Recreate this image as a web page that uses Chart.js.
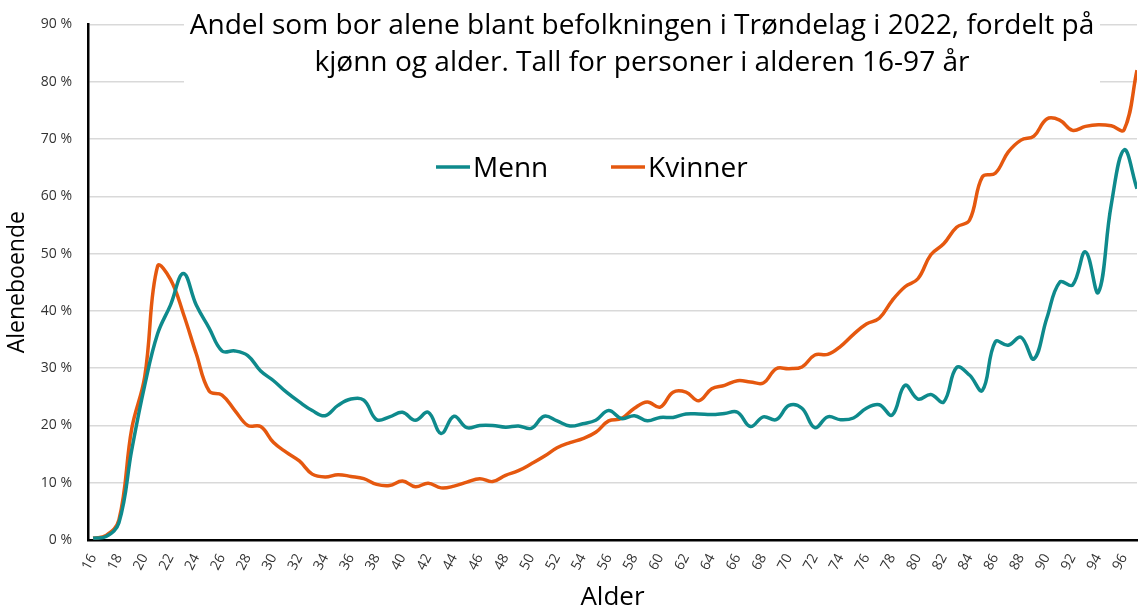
<!DOCTYPE html>
<html lang="no">
<head>
<meta charset="utf-8">
<title>Andel som bor alene i Trøndelag 2022</title>
<script src="https://cdn.jsdelivr.net/npm/chart.js@4"></script>
<style>
    body { margin: 0; background: #fff; }
    #wrap { width: 1141px; height: 615px; position: relative; }
</style>
</head>
<body>
<div id="wrap"><canvas id="aleneChart"></canvas></div>
<script>
// Data
const ages = [16, 17, 18, 19, 20, 21, 22, 23, 24, 25, 26, 27, 28, 29, 30, 31, 32, 33, 34, 35,
    36, 37, 38, 39, 40, 41, 42, 43, 44, 45, 46, 47, 48, 49, 50, 51, 52, 53, 54, 55,
    56, 57, 58, 59, 60, 61, 62, 63, 64, 65, 66, 67, 68, 69, 70, 71, 72, 73, 74, 75,
    76, 77, 78, 79, 80, 81, 82, 83, 84, 85, 86, 87, 88, 89, 90, 91, 92, 93, 94, 95, 96, 97];

const menn = [0.3, 0.6, 3.0, 15.8, 27, 36, 41, 46.5, 41, 37, 33, 33, 32.2, 29.5, 27.8, 25.8, 24.1, 22.6, 21.7, 23.5,
    24.6, 24.4, 21, 21.5, 22.3, 20.9, 22.3, 18.6, 21.6, 19.6, 20, 20, 19.7, 19.9, 19.5, 21.6, 20.8, 19.9, 20.3, 20.9,
    22.6, 21.2, 21.7, 20.8, 21.4, 21.4, 22, 22, 21.9, 22.1, 22.3, 19.8, 21.5, 21, 23.5, 23, 19.6, 21.5, 21, 21.3,
    23, 23.6, 21.8, 27, 24.6, 25.4, 24.1, 30.1, 28.8, 26.1, 34.6, 34, 35.4, 31.6, 38.7, 45, 44.5, 50.3, 43.2, 58.5, 68.1, 61.3];

const kvinner = [0.3, 0.8, 3.5, 19.5, 28.5, 47.8, 45.5, 39.5, 32.5, 26, 25.3, 22.6, 20, 19.8, 17, 15.3, 13.8, 11.5, 11, 11.4,
    11.1, 10.7, 9.7, 9.5, 10.3, 9.3, 9.9, 9.1, 9.4, 10.1, 10.7, 10.2, 11.3, 12.1, 13.3, 14.6, 16.1, 17, 17.7, 18.8,
    20.8, 21.2, 23, 24.1, 23.2, 25.8, 25.8, 24.3, 26.4, 27, 27.8, 27.6, 27.4, 29.9, 29.9, 30.2, 32.3, 32.4, 33.8, 35.9,
    37.7, 38.7, 41.8, 44.2, 45.6, 49.8, 51.7, 54.6, 55.8, 63.4, 64, 67.7, 69.8, 70.5, 73.5, 73.3, 71.5, 72.2, 72.5, 72.3, 71.6, 82];

const xTicks = [16, 18, 20, 22, 24, 26, 28, 30, 32, 34, 36, 38, 40, 42, 44, 46, 48, 50, 52, 54, 56,
    58, 60, 62, 64, 66, 68, 70, 72, 74, 76, 78, 80, 82, 84, 86, 88, 90, 92, 94, 96];
const yTicks = [0, 10, 20, 30, 40, 50, 60, 70, 80, 90];

const titleLines = [
    'Andel som bor alene blant befolkningen i Trøndelag i 2022, fordelt på',
    'kjønn og alder. Tall for personer i alderen 16-97 år'
];

const COLORS = { menn: '#0e8a8c', kvinner: '#e5580f' };
const FONT = "'Open Sans', 'DejaVu Sans', sans-serif";

// Title box and legend sit on top of the plot area, like in the original
const overlayPlugin = {
    id: 'overlay',
    afterDraw(chart) {
        const ctx = chart.ctx;
        ctx.save();
        ctx.fillStyle = '#fff';
        ctx.fillRect(184, 0, 916, 90);

        // fit the title to the original's line width
        let size = 26;
        ctx.font = `${size}px ${FONT}`;
        size = size * 905 / ctx.measureText(titleLines[0]).width;
        ctx.font = `${size}px ${FONT}`;
        ctx.fillStyle = '#000';
        ctx.textAlign = 'center';
        ctx.textBaseline = 'alphabetic';
        ctx.fillText(titleLines[0], 642, 34);
        ctx.fillText(titleLines[1], 642, 71);

        // legend
        ctx.font = `28px ${FONT}`;
        ctx.textAlign = 'left';
        const items = [
            { x: 436, ds: chart.data.datasets[0] },
            { x: 611, ds: chart.data.datasets[1] }
        ];
        items.forEach(it => {
            ctx.strokeStyle = it.ds.borderColor;
            ctx.lineWidth = 3.5;
            ctx.beginPath();
            ctx.moveTo(it.x, 167);
            ctx.lineTo(it.x + 34, 167);
            ctx.stroke();
            ctx.fillStyle = '#000';
            ctx.fillText(it.ds.label, it.x + 37, 177);
        });
        ctx.restore();
    }
};

const chart = new Chart(document.getElementById('aleneChart'), {
    type: 'line',
    data: {
        datasets: [
            {
                label: 'Menn',
                data: ages.map((a, i) => ({ x: a, y: menn[i] })),
                borderColor: COLORS.menn,
                backgroundColor: COLORS.menn,
                borderWidth: 3.5,
                pointRadius: 0,
                tension: 0.4
            },
            {
                label: 'Kvinner',
                data: ages.map((a, i) => ({ x: a, y: kvinner[i] })),
                borderColor: COLORS.kvinner,
                backgroundColor: COLORS.kvinner,
                borderWidth: 3.5,
                pointRadius: 0,
                tension: 0.4
            }
        ]
    },
    options: {
        responsive: true,
        maintainAspectRatio: false,
        animation: false,
        layout: { padding: { top: 23, right: 4, left: 0, bottom: 0 } },
        plugins: {
            legend: { display: false },
            title: { display: false },
            tooltip: { enabled: false }
        },
        scales: {
            x: {
                type: 'linear',
                min: 15.6,
                max: 97,
                afterBuildTicks: scale => { scale.ticks = xTicks.map(v => ({ value: v })); },
                afterFit: scale => {
                    scale.height = 75;
                    scale.paddingLeft = 0;
                    scale.paddingRight = 0;
                },
                grid: { display: false, drawTicks: false },
                border: { display: true, color: '#000', width: 2.5 },
                ticks: {
                    autoSkip: false,
                    minRotation: 62,
                    maxRotation: 62,
                    padding: 11,
                    color: '#333',
                    font: { family: FONT, size: 14 }
                },
                title: {
                    display: true,
                    text: 'Alder',
                    color: '#000',
                    font: { family: FONT, size: 26 },
                    padding: { top: 0, bottom: 2 }
                }
            },
            y: {
                min: 0,
                max: 90,
                afterBuildTicks: scale => { scale.ticks = yTicks.map(v => ({ value: v })); },
                afterFit: scale => { scale.width = 88; },
                grid: { color: '#d9d9d9', lineWidth: 1.5, drawTicks: false },
                border: { display: true, color: '#000', width: 2.5 },
                ticks: {
                    padding: 16,
                    color: '#333',
                    font: { family: FONT, size: 14 },
                    callback: v => `${v} %`
                },
                title: {
                    display: true,
                    text: 'Aleneboende',
                    color: '#000',
                    font: { family: FONT, size: 23 },
                    padding: { top: 4, bottom: 0 }
                }
            }
        }
    },
    plugins: [overlayPlugin]
});
</script>
</body>
</html>
